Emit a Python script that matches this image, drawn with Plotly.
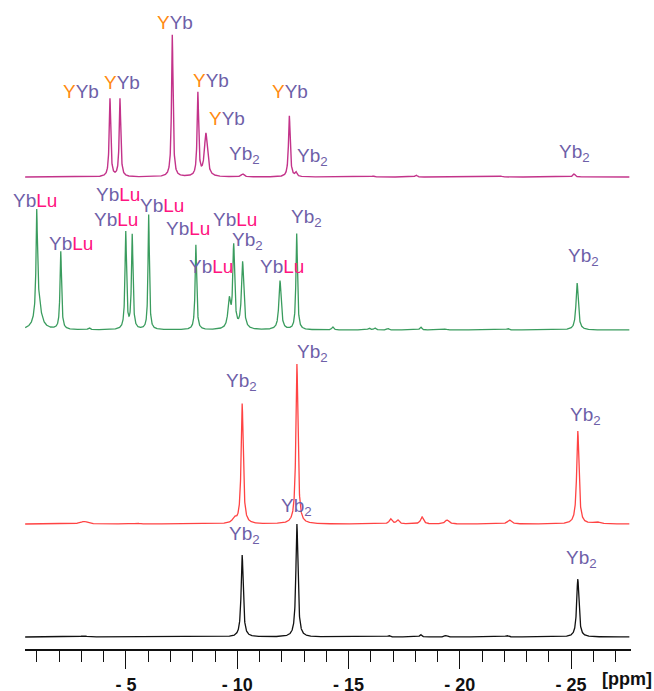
import numpy as np
import plotly.graph_objects as go

# ---------------- data ----------------
# chemical-shift window of the recorded spectra (ppm, plotted as negative shifts)
ppm_first, ppm_last, ppm_step = 0.47, 27.62, 0.005

# top spectrum (Y/Yb) : peak positions (-ppm), heights, full widths (ppm)
yyb_pos = [4.28, 4.73, 7.08, 8.23, 8.59, 10.24, 12.34, 12.64, 16.10, 18.03, 21.85, 25.13]
yyb_h   = [78, 78, 142, 83, 43, 3, 61, 4, 1, 2, 1, 3]
yyb_w   = [0.08, 0.08, 0.08, 0.08, 0.16, 0.15, 0.09, 0.10, 0.10, 0.10, 0.10, 0.12]
yyb_offset = 472

# second spectrum (Yb/Lu)
ybl_pos = [0.99, 1.05, 2.07, 3.34, 4.99, 5.28, 6.02, 8.14, 9.64, 9.84, 10.24, 11.92, 12.67,
           14.29, 15.92, 16.18, 16.77, 18.24, 19.36, 22.16, 25.27]
ybl_h   = [95, 30, 78, 2, 97, 94, 115, 85, 28, 82, 67, 49, 96,
           3, 2, 2, 1.5, 3, 1, 1.5, 47]
ybl_w   = [0.07, 0.30, 0.08, 0.10, 0.08, 0.08, 0.07, 0.08, 0.14, 0.10, 0.12, 0.12, 0.08,
           0.10, 0.10, 0.10, 0.10, 0.10, 0.12, 0.12, 0.12]
ybl_offset = 319

# third spectrum (Yb2, red)
yb2r_pos = [3.11, 5.0, 5.5, 9.87, 10.22, 12.68, 16.89, 17.21, 18.30, 19.42, 22.23, 25.30, 26.15]
yb2r_h   = [2.5, 1, 1, 5, 120, 160, 5, 4, 7, 4, 4, 93, 2]
yb2r_w   = [0.40, 0.15, 0.15, 0.20, 0.11, 0.11, 0.15, 0.15, 0.15, 0.20, 0.20, 0.12, 0.30]
yb2r_offset = 125

# bottom spectrum (Yb2, black)
yb2k_pos = [3.10, 10.22, 12.68, 16.82, 18.24, 19.38, 22.12, 25.30]
yb2k_h   = [1, 82, 113, 1.5, 2.5, 1.5, 1.5, 58]
yb2k_w   = [0.40, 0.11, 0.11, 0.12, 0.10, 0.15, 0.15, 0.12]
yb2k_offset = 12

# peak labels: kind, -ppm of label centre, vertical position (same units as spectra)
lab_kind = ["YYb", "YYb", "YYb", "YYb", "YYb", "Yb2", "YYb", "Yb2", "Yb2",
            "YbLu", "YbLu", "YbLu", "YbLu", "YbLu", "YbLu", "YbLu", "Yb2", "YbLu", "YbLu", "Yb2", "Yb2",
            "Yb2", "Yb2", "Yb2",
            "Yb2", "Yb2", "Yb2"]
lab_ppm  = [2.98, 4.82, 7.20, 8.82, 9.54, 10.32, 12.37, 13.40, 25.13,
            0.91, 2.53, 4.64, 4.55, 6.62, 7.79, 9.90, 10.48, 8.82, 12.01, 13.09, 25.57,
            10.17, 13.40, 25.66,
            10.32, 12.68, 25.47]
lab_y    = [558, 567, 627, 569, 531, 494, 558, 492, 496,
            449, 406, 455, 430, 444, 421, 430, 408, 383, 383, 431, 392,
            267, 296, 233,
            114, 142, 90]

tick_vals = [-5, -10, -15, -20, -25]
tick_text = ["- 5", "- 10", "- 15", "- 20", "- 25"]
minor_vals = [-v for v in range(1, 28) if v % 5 != 0]
unit_text = "[ppm]"
unit_ppm = 27.5

# ---------------- build ----------------
ppm = np.arange(ppm_first, ppm_last, ppm_step)


def spectrum(pos, h, w, offset):
    y = np.full_like(ppm, float(offset))
    for p, a, fw in zip(pos, h, w):
        g = fw / 2.0
        y += a / (1.0 + ((ppm - p) / g) ** 2)
    return y


FONT = "Liberation Sans, Arial, sans-serif"
C_YB = "#6e5fa8"
C_Y = "#ff8a10"
C_LU = "#ff1580"

fig = go.Figure()
specs = [
    (yyb_pos, yyb_h, yyb_w, yyb_offset, "#c3338a", 1.4),
    (ybl_pos, ybl_h, ybl_w, ybl_offset, "#3a9c5e", 1.3),
    (yb2r_pos, yb2r_h, yb2r_w, yb2r_offset, "#ff4343", 1.3),
    (yb2k_pos, yb2k_h, yb2k_w, yb2k_offset, "#111111", 1.3),
]
for pos, h, w, off, col, lw in specs:
    fig.add_trace(go.Scatter(x=-ppm, y=spectrum(pos, h, w, off), mode="lines",
                             line=dict(color=col, width=lw), hoverinfo="skip",
                             showlegend=False))


def label_html(kind):
    if kind == "YYb":
        return f"<span style='color:{C_Y}'>Y</span><span style='color:{C_YB}'>Yb</span>"
    if kind == "YbLu":
        return f"<span style='color:{C_YB}'>Yb</span><span style='color:{C_LU}'>Lu</span>"
    return f"<span style='color:{C_YB}'>Yb<sub>2</sub></span>"


for k, xp, yv in zip(lab_kind, lab_ppm, lab_y):
    fig.add_annotation(x=-xp, y=yv, xref="x", yref="y", text=label_html(k),
                       showarrow=False, xanchor="center", yanchor="middle",
                       font=dict(family=FONT, size=19, color=C_YB))

# unit label: anchored on the axis, then moved down to the tick-label row
fig.add_annotation(x=-unit_ppm, y=1, xref="x", yref="y", text=unit_text,
                   showarrow=False, xanchor="center", yanchor="middle", yshift=-31,
                   font=dict(family=FONT, size=18, color="#111111", weight="bold"))

fig.update_layout(
    width=654, height=691,
    margin=dict(l=25, r=23, t=0, b=42),
    paper_bgcolor="white", plot_bgcolor="white",
    xaxis=dict(range=[-0.463, -27.69], showgrid=False, zeroline=False, automargin=False,
               showline=True, linecolor="#111111", linewidth=2,
               tickmode="array", tickvals=tick_vals, ticktext=tick_text,
               ticks="outside", ticklen=18, tickwidth=1.4, tickcolor="#111111",
               ticklabelstandoff=0,
               tickfont=dict(family=FONT, size=18, color="#111111", weight="bold"),
               minor=dict(tickmode="array", tickvals=minor_vals, ticks="outside",
                          ticklen=11, tickwidth=1.4, tickcolor="#111111", showgrid=False)),
    yaxis=dict(range=[0, 649], visible=False, fixedrange=True, automargin=False),
)

# the figure fills the whole window: drop the page's default body margin
fig.write_html("out.html", config={"displayModeBar": False},
               post_script="document.body.style.margin='0px';"
                           "document.documentElement.style.overflow='hidden';")
